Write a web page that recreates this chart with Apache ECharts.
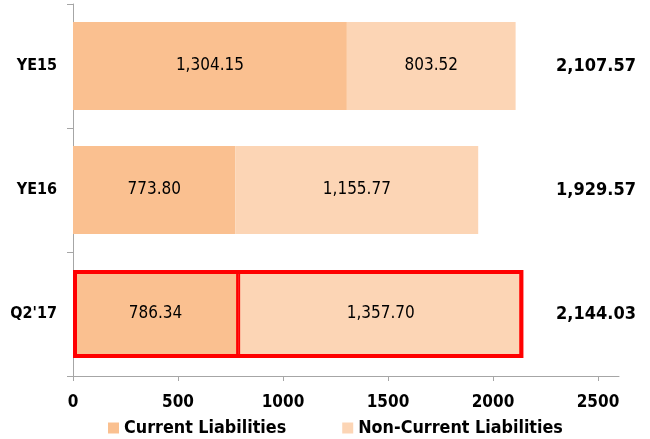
<!DOCTYPE html>
<html>
<head>
<meta charset="utf-8">
<script src="https://cdn.jsdelivr.net/npm/echarts@6/dist/echarts.min.js"></script>
<style>html,body{margin:0;padding:0;background:#fff}#c{width:650px;height:439px}</style>
</head>
<body>
<div id="c"></div>
<script>
var categories = ['YE15', 'YE16', "Q2'17"];
var currentLiabilities = [1304.15, 773.80, 786.34];
var nonCurrentLiabilities = [803.52, 1155.77, 1357.70];
var totalLabels = ['2,107.57', '1,929.57', '2,144.03'];
var xTickValues = [0, 500, 1000, 1500, 2000, 2500];
var highlightCategory = "Q2'17";

function fmt(v) {
  return v.toLocaleString('en-US', {minimumFractionDigits: 2, maximumFractionDigits: 2});
}

function hasFont(name) {
  var ctx = document.createElement('canvas').getContext('2d');
  var s = 'abcdefghijklmWQ0123456789';
  ctx.font = '72px monospace';
  var w0 = ctx.measureText(s).width;
  ctx.font = "72px '" + name + "', monospace";
  return ctx.measureText(s).width !== w0;
}
var cond = hasFont('DejaVu Sans Condensed');
var FONT = cond ? 'DejaVu Sans Condensed' : 'DejaVu Sans';
var K = cond ? 1 : 0.9;
var AXIS = '#A6A6A6';

function items(arr, color) {
  return arr.map(function (v, i) {
    var it = {value: v, itemStyle: {color: color}};
    if (categories[i] === highlightCategory) {
      it.itemStyle.borderColor = '#FF0000';
      it.itemStyle.borderWidth = 2;
    }
    return it;
  });
}
var outline = categories.map(function (c, i) {
  return c === highlightCategory ? currentLiabilities[i] + nonCurrentLiabilities[i] : '-';
});

var chart = echarts.init(document.getElementById('c'), null, {renderer: 'canvas'});
chart.setOption({
  animation: false,
  grid: {left: 73, right: 31, top: 4, bottom: 63, containLabel: false},
  legend: {
    left: 103, bottom: -3,
    itemWidth: 11, itemHeight: 11, itemGap: 56,
    icon: 'rect',
    textStyle: {fontFamily: FONT, fontWeight: 'bold', fontSize: 17.8 * K, color: '#000'},
    data: ['Current Liabilities', 'Non-Current Liabilities']
  },
  xAxis: {
    type: 'value', min: 0, max: 2600, interval: 500,
    splitLine: {show: false},
    axisLine: {show: true, lineStyle: {color: AXIS, width: 1}},
    axisTick: {show: true, length: 5, lineStyle: {color: AXIS}, customValues: xTickValues},
    axisLabel: {margin: 18, fontFamily: FONT, fontWeight: 'bold', fontSize: Math.round(16.5 * K), color: '#000',
      customValues: xTickValues, formatter: function (v) { return String(v); }}
  },
  yAxis: [{
    type: 'category', inverse: true, data: categories,
    axisLine: {show: true, lineStyle: {color: AXIS, width: 1}},
    axisTick: {show: true, length: 6, alignWithLabel: false, lineStyle: {color: AXIS}},
    axisLabel: {margin: 16, fontFamily: FONT, fontWeight: 'bold', fontSize: Math.round(16 * K), color: '#000'}
  }, {
    type: 'category', inverse: true, position: 'right', data: totalLabels,
    axisLine: {show: false}, axisTick: {show: false}, splitLine: {show: false},
    axisLabel: {inside: true, margin: 23, align: 'center', fontFamily: FONT, fontWeight: 'bold', fontSize: Math.round(17.5 * K), color: '#000'}
  }],
  series: [{
    name: 'Current Liabilities', type: 'bar', stack: 'total', yAxisIndex: 0,
    barCategoryGap: '29%', barGap: '-100%',
    itemStyle: {color: '#FAC090'},
    data: items(currentLiabilities, '#FAC090'),
    label: {show: true, position: 'inside', fontFamily: FONT, fontSize: Math.round(17 * K), color: '#000',
      formatter: function (p) { return fmt(p.value); }}
  }, {
    name: 'Non-Current Liabilities', type: 'bar', stack: 'total', yAxisIndex: 0,
    barCategoryGap: '29%', barGap: '-100%',
    itemStyle: {color: '#FCD5B5'},
    data: items(nonCurrentLiabilities, '#FCD5B5'),
    label: {show: true, position: 'inside', fontFamily: FONT, fontSize: Math.round(17 * K), color: '#000',
      formatter: function (p) { return fmt(p.value); }}
  }, {
    name: 'outline', type: 'bar', yAxisIndex: 0, z: 3,
    barCategoryGap: '29%', barGap: '-100%', silent: true,
    itemStyle: {color: 'rgba(0,0,0,0)', borderColor: '#FF0000', borderWidth: 4},
    data: outline, label: {show: false}
  }]
});
</script>
</body>
</html>
